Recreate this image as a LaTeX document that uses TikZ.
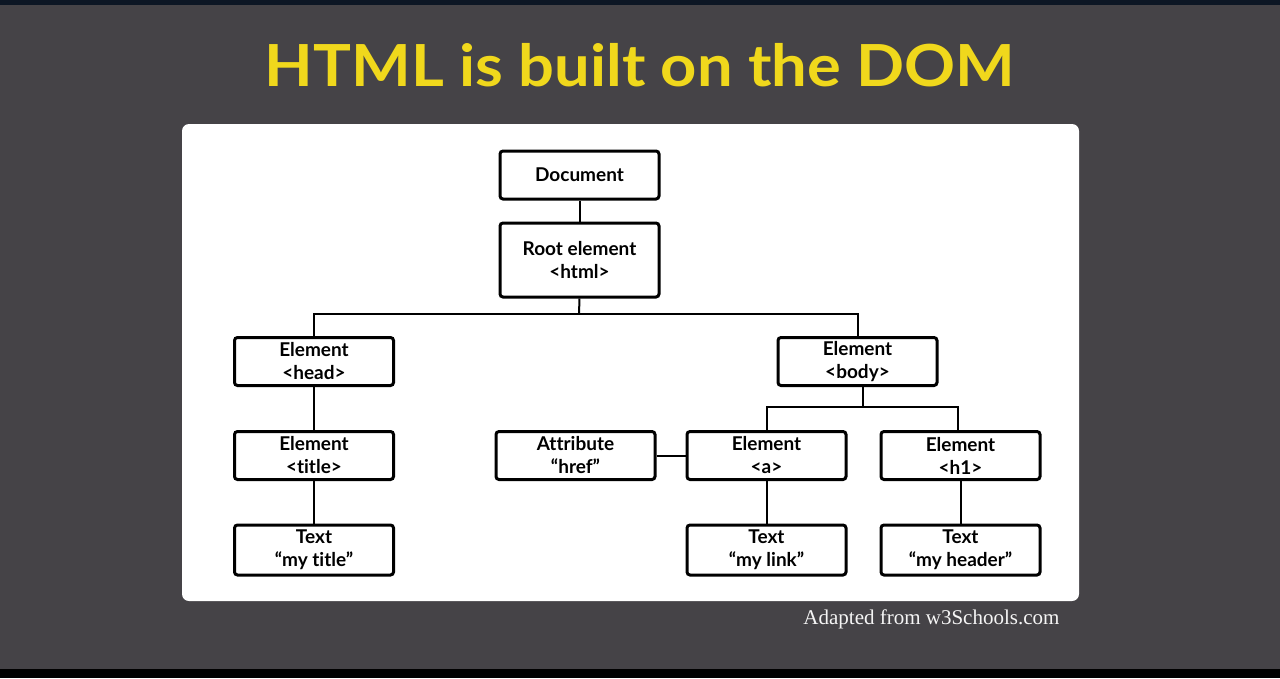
\documentclass[tikz,border=0pt]{standalone}
\usepackage{fontspec}
\setmainfont{Lato}[Ligatures=NoCommon]
\newfontfamily\notefont{Liberation Serif}
\usetikzlibrary{calc}
\definecolor{slate}{RGB}{69,67,71}
\definecolor{topband}{RGB}{12,22,36}
\definecolor{titleyellow}{RGB}{240,216,28}
\tikzset{
  domnode/.style={draw=black, line width=3pt, rounded corners=3pt, fill=white,
    minimum width=159pt, minimum height=48pt, inner sep=0pt,
    align=center, font=\fontsize{19}{23}\selectfont\bfseries},
  link/.style={draw=black, line width=2pt}
}
\begin{document}
\begin{tikzpicture}[x=1pt, y=-1pt]
  % background slide
  \fill[slate] (0,0) rectangle (1280,678);
  \fill[topband] (0,0) rectangle (1280,5);
  \fill[black] (0,669) rectangle (1280,678);
  \useasboundingbox (0,0) rectangle (1280,678);

  \node[text=titleyellow, font=\fontsize{58}{60}\selectfont\bfseries, xscale=1.09] (heading) at (640,65) {HTML is built on the DOM};

  % white panel
  \fill[white, rounded corners=7pt] (182,124) rectangle (1079,601);

  \node[domnode, minimum height=48pt] (doc) at (579.5,175) {Document};
  \node[domnode, minimum height=74pt] (root) at (579.5,260) {Root element\\ <html>};
  \node[domnode] (head) at (314,361.5) {Element\\ <head>};
  \node[domnode] (body) at (857.5,361.5) {Element\\ <body>};
  \node[domnode] (title) at (314,455.5) {Element\\ <title>};
  \node[domnode] (attr) at (575.5,455.5) {Attribute\\ “href”};
  \node[domnode] (a) at (766.5,455.5) {Element\\ <a>};
  \node[domnode] (h1) at (960.5,455.5) {Element\\ <h1>};
  \node[domnode, minimum height=50pt] (ttext) at (314,550) {Text\\ “my title”};
  \node[domnode, minimum height=50pt] (ltext) at (766.5,550) {Text\\ “my link”};
  \node[domnode, minimum height=50pt] (htext) at (960.5,550) {Text\\ “my header”};

  \coordinate (rootbar) at (579,314);
  \coordinate (bodybar) at (863,407);

  % tree connectors
  \draw[link] (doc.south) -- (root.north);
  \draw[link] (root.south) -- (rootbar);
  \draw[link] (head.north) |- (rootbar) -| (body.north);
  \draw[link] (head.south) -- (title.north);
  \draw[link] (title.south) -- (ttext.north);
  \draw[link] (body.south -| bodybar) -- (bodybar);
  \draw[link] (a.north) |- (bodybar) -| ($(h1.north)+(-3,0)$);
  \draw[link] (attr.east) -- (a.west);
  \draw[link] (a.south) -- (ltext.north);
  \draw[link] (h1.south) -- (htext.north);

  \node[text=white!92!gray, font=\notefont\fontsize{21}{23}\selectfont, anchor=east] (credit) at (1063,619) {Adapted from w3Schools.com};
\end{tikzpicture}
\end{document}
